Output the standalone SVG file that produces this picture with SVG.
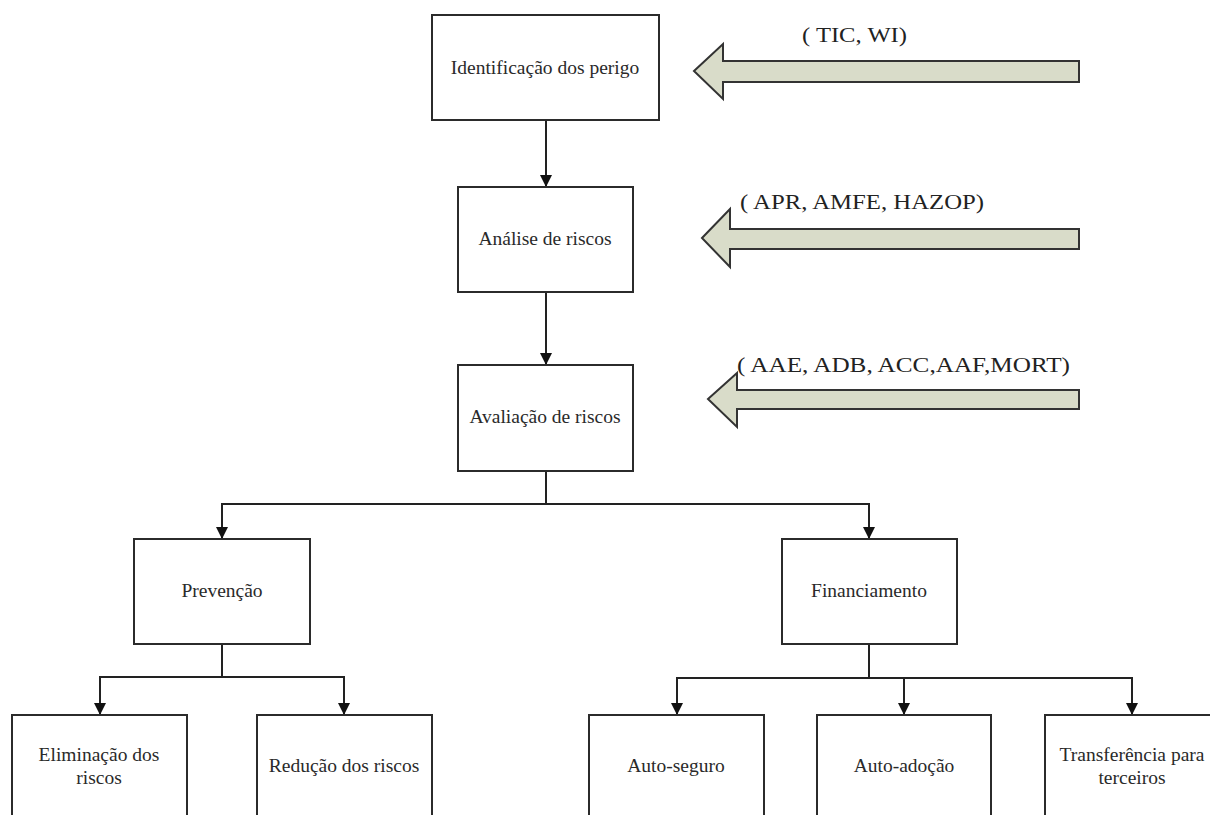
<svg xmlns="http://www.w3.org/2000/svg" width="1210" height="815" viewBox="0 0 1210 815">
<style>
.box{fill:#fff;stroke:#2b2b2b;stroke-width:2}
.t{font-family:"Liberation Serif","Times New Roman",serif;font-size:19.5px;fill:#2a2a2a;text-anchor:middle}
.lbl{font-family:"Liberation Serif","Times New Roman",serif;font-size:21px;fill:#222}
.con{fill:none;stroke:#222;stroke-width:2}
.blk{fill:#d9dcc9;stroke:#333;stroke-width:2;stroke-linejoin:miter}
</style>
<defs>
<marker id="ah" viewBox="0 0 12 12" refX="12" refY="6" markerWidth="12" markerHeight="12" markerUnits="userSpaceOnUse" orient="auto">
<path d="M0,0 L12,6 L0,12 z" fill="#111"/>
</marker>
</defs>
<rect width="1210" height="815" fill="#fff"/>

<g id="inputs">
<g id="input-1">
<polygon class="blk" points="694,71 723,44 723,61 1079,61 1079,82 723,82 723,99"/>
<text class="lbl" x="802" y="42" textLength="105" lengthAdjust="spacingAndGlyphs">( TIC, WI)</text>
</g>
<g id="input-2">
<polygon class="blk" points="702,238 730,209 730,229 1079,229 1079,249 730,249 730,267"/>
<text class="lbl" x="740" y="209" textLength="244" lengthAdjust="spacingAndGlyphs">( APR, AMFE, HAZOP)</text>
</g>
<g id="input-3">
<polygon class="blk" points="708,399 737,373 737,390 1079,390 1079,409 737,409 737,427"/>
<text class="lbl" x="737" y="372" textLength="333" lengthAdjust="spacingAndGlyphs">( AAE, ADB, ACC,AAF,MORT)</text>
</g>
</g>

<g id="connectors">
<path class="con" d="M546,120 V187" marker-end="url(#ah)"/>
<path class="con" d="M546,292 V365" marker-end="url(#ah)"/>
<path class="con" d="M546,471 V504 H222 V539" marker-end="url(#ah)"/>
<path class="con" d="M546,504 H869 V539" marker-end="url(#ah)"/>
<path class="con" d="M222,644 V677 H100 V715" marker-end="url(#ah)"/>
<path class="con" d="M222,677 H344 V715" marker-end="url(#ah)"/>
<path class="con" d="M869,644 V678 H677 V715" marker-end="url(#ah)"/>
<path class="con" d="M869,678 H904 V715" marker-end="url(#ah)"/>
<path class="con" d="M904,678 H1132 V715" marker-end="url(#ah)"/>
</g>

<g id="n-identificacao">
<rect class="box" x="432" y="15" width="227" height="105"/>
<text class="t" x="545" y="74">Identificação dos perigo</text>
</g>
<g id="n-analise">
<rect class="box" x="458" y="187" width="175" height="105"/>
<text class="t" x="545" y="245">Análise de riscos</text>
</g>
<g id="n-avaliacao">
<rect class="box" x="458" y="365" width="175" height="106"/>
<text class="t" x="545" y="423">Avaliação de riscos</text>
</g>
<g id="n-prevencao">
<rect class="box" x="134" y="539" width="176" height="105"/>
<text class="t" x="222" y="597">Prevenção</text>
</g>
<g id="n-financiamento">
<rect class="box" x="782" y="539" width="175" height="105"/>
<text class="t" x="869" y="597">Financiamento</text>
</g>
<g id="n-eliminacao">
<rect class="box" x="12" y="715" width="175" height="120"/>
<text class="t" x="99" y="761">Eliminação dos</text>
<text class="t" x="99" y="784">riscos</text>
</g>
<g id="n-reducao">
<rect class="box" x="257" y="715" width="175" height="120"/>
<text class="t" x="344" y="772">Redução dos riscos</text>
</g>
<g id="n-autoseguro">
<rect class="box" x="589" y="715" width="175" height="120"/>
<text class="t" x="676" y="772">Auto-seguro</text>
</g>
<g id="n-autoadocao">
<rect class="box" x="817" y="715" width="174" height="120"/>
<text class="t" x="904" y="772">Auto-adoção</text>
</g>
<g id="n-transferencia">
<rect class="box" x="1045" y="715" width="175" height="120"/>
<text class="t" x="1132" y="761">Transferência para</text>
<text class="t" x="1132" y="784">terceiros</text>
</g>
</svg>
